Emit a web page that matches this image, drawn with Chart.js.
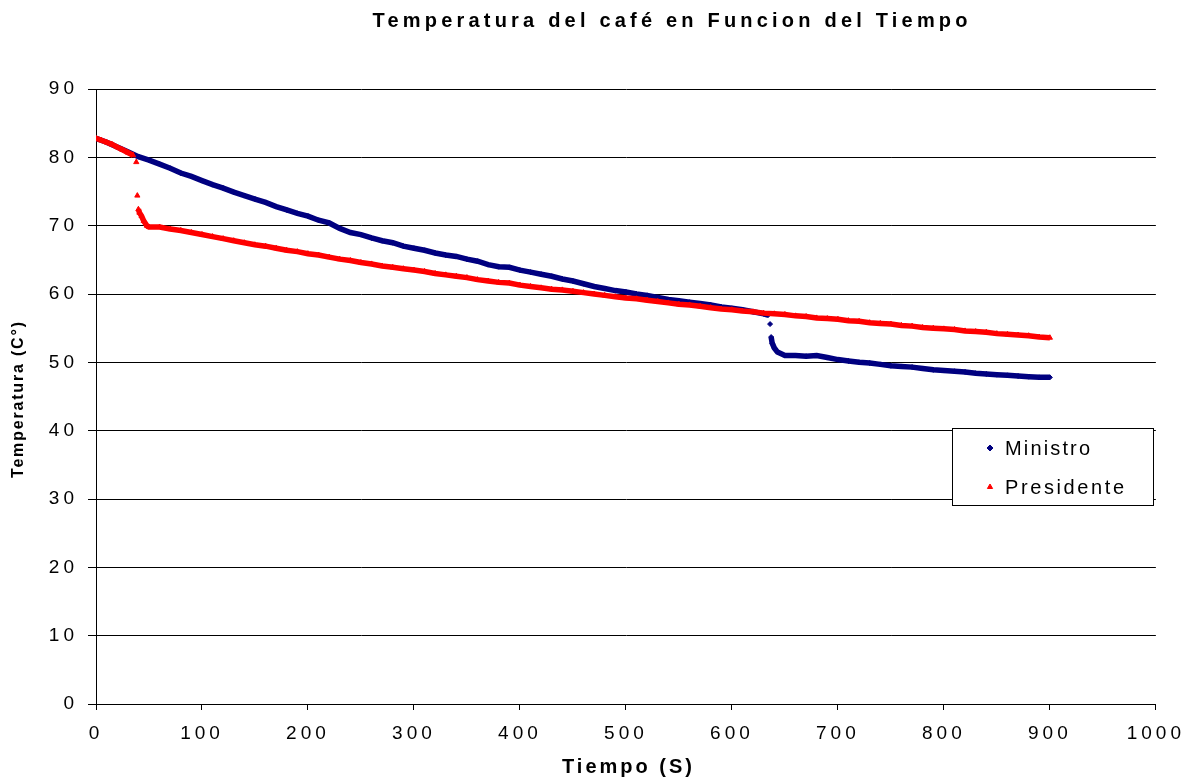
<!DOCTYPE html>
<html><head><meta charset="utf-8">
<script src="https://cdn.jsdelivr.net/npm/chart.js@4.4.1/dist/chart.umd.min.js"></script>
<style>html,body{margin:0;padding:0;background:#fff}#wrap{width:1189px;height:779px}</style>
</head><body><div id="wrap"><canvas id="c" width="1189" height="779"></canvas></div>
<script>
const titleText = 'Temperatura del café en Funcion del Tiempo';
const xTitleText = 'Tiempo (S)';
const yTitleText = 'Temperatura (C°)';
const seriesNames = ['Ministro', 'Presidente'];
const seriesColors = ['#000080', '#FF0000'];
const xTicks = [0, 100, 200, 300, 400, 500, 600, 700, 800, 900, 1000];
const yTicks = [0, 10, 20, 30, 40, 50, 60, 70, 80, 90];

const ministroTime = [0,10,20,30,40,50,60,70,80,90,100,110,120,130,140,150,160,170,180,190,200,210,220,230,240,250,260,270,280,290,300,310,320,330,340,350,360,370,380,390,400,410,420,430,440,450,460,470,480,490,500,510,520,530,540,550,560,570,580,590,600,610,620,630,634,636,637,638,640,643,650,660,670,680,690,700,710,720,730,740,750,760,770,780,790,800,810,820,830,840,850,860,870,880,890,900];
const ministroTemp = [82.8,82.2,81.5,80.8,80.1,79.6,79.0,78.4,77.7,77.2,76.6,76.0,75.5,74.9,74.4,73.9,73.4,72.8,72.3,71.8,71.4,70.8,70.4,69.6,69.0,68.7,68.2,67.8,67.5,67.0,66.7,66.4,66.0,65.7,65.5,65.1,64.8,64.3,64.0,63.9,63.5,63.2,62.9,62.6,62.2,61.9,61.5,61.1,60.8,60.5,60.3,60.0,59.8,59.5,59.2,59.0,58.8,58.6,58.4,58.1,57.9,57.7,57.4,57.1,56.9,55.6,53.7,52.8,52.1,51.5,51.0,51.0,50.9,51.0,50.7,50.4,50.2,50.0,49.9,49.7,49.5,49.4,49.3,49.1,48.9,48.8,48.7,48.6,48.4,48.3,48.2,48.1,48.0,47.9,47.8,47.8];

const presidenteTime = [0,5,10,15,20,25,30,35,38,39,40,41,43,45,48,50,60,70,80,90,100,110,120,130,140,150,160,170,180,190,200,210,220,230,240,250,260,270,280,290,300,310,320,330,340,350,360,370,380,390,400,410,420,430,440,450,460,470,480,490,500,510,520,530,540,550,560,570,580,590,600,610,620,630,640,650,660,670,680,690,700,710,720,730,740,750,760,770,780,790,800,810,820,830,840,850,860,870,880,890,900];
const presidenteTemp = [82.8,82.5,82.2,81.9,81.5,81.1,80.7,80.3,79.3,74.4,72.4,71.9,71.4,70.7,70.0,69.8,69.8,69.5,69.3,69.0,68.7,68.4,68.1,67.8,67.5,67.2,67.0,66.7,66.4,66.2,65.9,65.7,65.4,65.1,64.9,64.6,64.4,64.1,63.9,63.7,63.5,63.3,63.0,62.8,62.6,62.4,62.1,61.9,61.7,61.6,61.3,61.1,60.9,60.7,60.6,60.4,60.2,60.0,59.8,59.6,59.4,59.3,59.1,58.9,58.7,58.5,58.4,58.2,58.0,57.8,57.7,57.5,57.4,57.2,57.1,57.0,56.8,56.7,56.5,56.4,56.3,56.1,56.0,55.8,55.7,55.6,55.4,55.3,55.1,55.0,54.9,54.8,54.6,54.5,54.4,54.2,54.1,54.0,53.9,53.7,53.6];

const ministroPts = ministroTime.map((t, i) => ({x: t, y: ministroTemp[i]}));
const presidentePts = presidenteTime.map((t, i) => ({x: t, y: presidenteTemp[i]}));

const JUMP = 0.95;
function seg(color) {
  return {
    borderColor: c => Math.abs(c.p1.parsed.y - c.p0.parsed.y) > JUMP ? 'rgba(0,0,0,0)' : color
  };
}

function spacedText(ctx, text, cx, cy, font, target) {
  ctx.save();
  ctx.font = font;
  ctx.letterSpacing = '0px';
  const w = ctx.measureText(text).width;
  const n = text.length;
  const sp = Math.max(0, (target - w) / (n - 1));
  ctx.letterSpacing = sp + 'px';
  ctx.textAlign = 'left';
  ctx.textBaseline = 'middle';
  ctx.fillStyle = '#000';
  ctx.fillText(text, cx - target / 2, cy);
  ctx.restore();
}

const textPlugin = {
  id: 'texts',
  beforeDraw(chart) {
    chart.ctx.letterSpacing = '4px';
  },
  afterDraw(chart) {
    const ctx = chart.ctx;
    ctx.letterSpacing = '0px';
    spacedText(ctx, titleText, 670, 21, 'bold 20px "Liberation Sans", Arial, sans-serif', 595);
    spacedText(ctx, xTitleText, 627, 767, 'bold 20px "Liberation Sans", Arial, sans-serif', 130);
    ctx.save();
    ctx.translate(19, 400);
    ctx.rotate(-Math.PI / 2);
    spacedText(ctx, yTitleText, 0, 0, 'bold 16px "Liberation Sans", Arial, sans-serif', 156);
    ctx.restore();
    // legend box
    const bx = 952.5, by = 428.5, bw = 201, bh = 77;
    ctx.save();
    ctx.fillStyle = '#fff';
    ctx.fillRect(bx, by, bw, bh);
    ctx.strokeStyle = '#000';
    ctx.lineWidth = 1;
    ctx.strokeRect(bx, by, bw, bh);
    const rows = [448, 487];
    const widths = [85, 119];
    chart.data.datasets.forEach((ds, i) => {
      ctx.fillStyle = ds.backgroundColor;
      ctx.strokeStyle = ds.backgroundColor;
      Chart.helpers.drawPoint(ctx, {pointStyle: ds.pointStyle, radius: 3, rotation: 0, borderWidth: 1}, 990, rows[i]);
      ctx.save();
      ctx.font = '20px "Liberation Sans", Arial, sans-serif';
      ctx.letterSpacing = '0px';
      const w = ctx.measureText(ds.label).width;
      const sp = (widths[i] - w) / (ds.label.length - 1);
      ctx.letterSpacing = sp + 'px';
      ctx.fillStyle = '#000';
      ctx.textAlign = 'left';
      ctx.textBaseline = 'middle';
      ctx.fillText(ds.label, 1005, rows[i] + 1);
      ctx.restore();
    });
    ctx.restore();
  }
};

new Chart(document.getElementById('c'), {
  type: 'scatter',
  data: {
    datasets: [
      {
        label: seriesNames[0], data: ministroPts, order: 2,
        showLine: true, borderColor: seriesColors[0], backgroundColor: seriesColors[0],
        borderWidth: 5.5, pointStyle: 'rectRot', pointRadius: 2.5, pointBorderWidth: 1,
        segment: seg(seriesColors[0])
      },
      {
        label: seriesNames[1], data: presidentePts, order: 1,
        showLine: true, borderColor: seriesColors[1], backgroundColor: seriesColors[1],
        borderWidth: 5.5, pointStyle: 'triangle', pointRadius: 3, pointBorderWidth: 1,
        segment: seg(seriesColors[1])
      }
    ]
  },
  options: {
    responsive: false,
    devicePixelRatio: 1,
    animation: false,
    layout: {padding: {top: 89, right: 32, left: 0, bottom: 0}},
    plugins: {legend: {display: false}, tooltip: {enabled: false}, title: {display: false}},
    scales: {
      x: {
        type: 'linear', min: 0, max: 1000,
        afterFit: s => { s.height = 75; },
        afterBuildTicks: s => { s.ticks = xTicks.map(v => ({value: v})); },
        ticks: {color: '#000', font: {family: '"Liberation Sans", Arial, sans-serif', size: 19}, padding: 12, autoSkip: false, maxRotation: 0, callback: v => String(v)},
        grid: {drawOnChartArea: false, color: '#000', tickLength: 6, tickColor: '#000'},
        border: {color: '#000', width: 1}
      },
      y: {
        type: 'linear', min: 0, max: 90,
        afterFit: s => { s.width = 96; },
        afterBuildTicks: s => { s.ticks = yTicks.map(v => ({value: v})); },
        ticks: {color: '#000', font: {family: '"Liberation Sans", Arial, sans-serif', size: 19}, padding: 10, callback: v => String(v)},
        grid: {color: '#000', tickLength: 8, tickColor: '#000'},
        border: {color: '#000', width: 1}
      }
    }
  },
  plugins: [textPlugin]
});
</script>
</body></html>
